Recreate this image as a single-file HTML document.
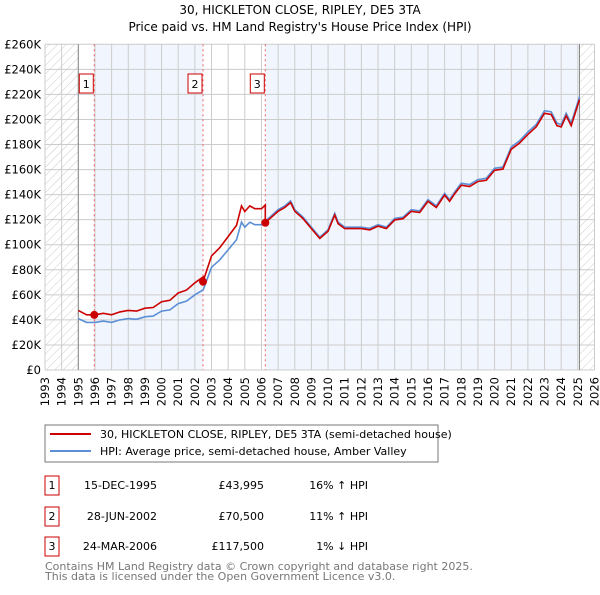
<!DOCTYPE html>
<html><head><meta charset="utf-8"><style>
body{margin:0;background:#fff;font-family:"Liberation Sans","DejaVu Sans",sans-serif}
#wrap{position:relative;width:600px;height:590px}
svg text{font-family:"DejaVu Sans","Liberation Sans",sans-serif}
</style></head><body><div id="wrap">
<svg id="chart" width="600" height="590">
<defs><pattern id="hatch" width="6" height="6" patternUnits="userSpaceOnUse" patternTransform="rotate(45)"><line x1="0" y1="0" x2="0" y2="6" stroke="#ccc" stroke-width="1"/></pattern></defs>
<text x="300" y="14" text-anchor="middle" font-size="12" fill="#000">30, HICKLETON CLOSE, RIPLEY, DE5 3TA</text>
<text x="300" y="31" text-anchor="middle" font-size="12" fill="#000">Price paid vs. HM Land Registry's House Price Index (HPI)</text>
<g id="plot"></g>
<g>
<rect x="45" y="425" width="393" height="37" fill="#fff" stroke="#777"/>
<line x1="50" y1="434" x2="91" y2="434" stroke="#cc0000" stroke-width="2"/>
<text x="100" y="438" font-size="11">30, HICKLETON CLOSE, RIPLEY, DE5 3TA (semi-detached house)</text>
<line x1="50" y1="451" x2="91" y2="451" stroke="#5b8fd6" stroke-width="2"/>
<text x="100" y="455" font-size="11">HPI: Average price, semi-detached house, Amber Valley</text>
</g>
<g id="table" font-size="11"></g>
<text x="45" y="570" font-size="11" fill="#777">Contains HM Land Registry data © Crown copyright and database right 2025.</text>
<text x="45" y="580" font-size="11" fill="#777">This data is licensed under the Open Government Licence v3.0.</text>
</svg></div>
<script>
const hpiYears=[1995.0,1995.5,1996,1996.5,1997,1997.5,1998,1998.5,1999,1999.5,2000,2000.5,2001,2001.5,2002,2002.5,2003,2003.5,2004,2004.5,2004.8,2005,2005.3,2005.6,2006,2006.25,2006.5,2007,2007.4,2007.75,2008,2008.5,2009,2009.5,2010,2010.4,2010.6,2011,2011.5,2012,2012.5,2013,2013.5,2014,2014.5,2015,2015.5,2016,2016.5,2017,2017.3,2017.6,2018,2018.5,2019,2019.5,2020,2020.5,2021,2021.5,2022,2022.5,2023,2023.4,2023.75,2024,2024.3,2024.6,2025.1];
const hpiValues=[41,38,38,39,38,40,41,40.5,42.5,43,47,48,53,55,60,64,82,88,96,104,118,114,118,116,116,119,122,128,131,135,128,122,114,106,112,125,118,114,114,114,113,116,114,121,122,128,127,136,131,141,136,142,149,148,152,153,161,162,178,183,190,196,207,206,197,196,205,197,218];
const saleDates=[1995.96,2002.49,2006.23];
const salePrices=[43.995,70.5,117.5];
const saleRatios=[1.16,1.11,0.99];
const yTicks=[0,20,40,60,80,100,120,140,160,180,200,220,240,260];
const xTicks=[1993,1994,1995,1996,1997,1998,1999,2000,2001,2002,2003,2004,2005,2006,2007,2008,2009,2010,2011,2012,2013,2014,2015,2016,2017,2018,2019,2020,2021,2022,2023,2024,2025,2026];
const tableDates=["15-DEC-1995","28-JUN-2002","24-MAR-2006"];
const tablePrices=["£43,995","£70,500","£117,500"];
const tableDiffs=["16% ↑ HPI","11% ↑ HPI","1% ↓ HPI"];

const NS="http://www.w3.org/2000/svg";
const X0=45,X1=594.5,Y0=370,Y1=44.3;
const xs=y=>X0+(y-1993)/33*(X1-X0);
const ys=v=>Y0-v/260*(Y0-Y1);
const plot=document.getElementById('plot');
function mk(tag,attrs,parent){const e=document.createElementNS(NS,tag);for(const k in attrs)e.setAttribute(k,attrs[k]);(parent||plot).appendChild(e);return e;}

let e;
e=mk('rect',{x:X0,y:Y1,width:X1-X0,height:Y0-Y1,fill:'#fff'});


e=mk('rect',{x:xs(saleDates[0]),y:Y1,width:xs(saleDates[1])-xs(saleDates[0]),height:Y0-Y1,fill:'#eef3fc',opacity:0.8});


e=mk('rect',{x:xs(saleDates[2]),y:Y1,width:xs(2025.1)-xs(saleDates[2]),height:Y0-Y1,fill:'#eef3fc',opacity:0.8});


e=mk('rect',{x:X0,y:Y1,width:xs(1995)-X0,height:Y0-Y1,fill:'url(#hatch)'});


e=mk('rect',{x:xs(2025.1),y:Y1,width:X1-xs(2025.1),height:Y0-Y1,fill:'url(#hatch)'});



yTicks.forEach(v=>{
  const g=mk('line',{x1:X0,x2:X1,y1:ys(v),y2:ys(v),stroke:'#ccc','stroke-width':1});
  
  
  const t=mk('text',{x:X0-4,y:ys(v)+4,'text-anchor':'end','font-size':11.5});
  t.textContent=v===0?'£0':'£'+v+'K';
  
  
});
xTicks.forEach(y=>{
  const g=mk('line',{x1:xs(y),x2:xs(y),y1:Y1,y2:Y0,stroke:'#ccc','stroke-width':1});
  
  
  const t=mk('text',{x:0,y:0,'text-anchor':'end','font-size':11.5,transform:`translate(${xs(y)+4},${Y0+7}) rotate(-90)`});
  t.textContent=y;
  
  
});
e=mk('line',{x1:xs(1995),x2:xs(1995),y1:Y1,y2:Y0,stroke:'#888'});


e=mk('line',{x1:xs(2025.1),x2:xs(2025.1),y1:Y1,y2:Y0,stroke:'#888'});



saleDates.forEach((d,i)=>{
  const l=mk('line',{x1:xs(d),x2:xs(d),y1:Y1,y2:Y0,stroke:'#f06060','stroke-dasharray':'2,3','stroke-width':1});
  
  
  const r=mk('rect',{x:xs(d)-15,y:74,width:14,height:19,fill:'#fff',stroke:'#cc0000'});
  
  
  const t=mk('text',{x:xs(d)-8,y:88,'text-anchor':'middle','font-size':11});
  t.textContent=String(i+1);
  
  
});

const hpiPts=hpiYears.map((y,i)=>xs(y).toFixed(1)+','+ys(hpiValues[i]).toFixed(1));
e=mk('polyline',{points:hpiPts.join(' '),fill:'none',stroke:'#5b8fd6','stroke-width':1.6});



function ratioAt(y){if(y<saleDates[1])return saleRatios[0];if(y<saleDates[2])return saleRatios[1];return saleRatios[2];}
function hpiAt(y){for(let i=1;i<hpiYears.length;i++){if(y<=hpiYears[i]){const t=(y-hpiYears[i-1])/(hpiYears[i]-hpiYears[i-1]);return hpiValues[i-1]+t*(hpiValues[i]-hpiValues[i-1]);}}return hpiValues[hpiValues.length-1];}
const redPts=[];
const allX=hpiYears.concat([saleDates[1]-0.001,saleDates[2]-0.001,saleDates[1],saleDates[2]]).sort((a,b)=>a-b);
allX.forEach(y=>redPts.push(xs(y).toFixed(1)+','+ys(hpiAt(y)*ratioAt(y)).toFixed(1)));
e=mk('polyline',{points:redPts.join(' '),fill:'none',stroke:'#cc0000','stroke-width':1.6});



saleDates.forEach((d,i)=>{
  const c=mk('circle',{cx:xs(d),cy:ys(salePrices[i]),r:4,fill:'#cc0000'});
  
  
});

const tb=document.getElementById('table');
const rowY=[485,516,546];
rowY.forEach((ry,i)=>{
  const r=mk('rect',{x:45,y:ry-9,width:14,height:19,fill:'#fff',stroke:'#cc0000'},tb);
  
  
  const cells=[[52,'middle',String(i+1)],[157,'end',tableDates[i]],[264,'end',tablePrices[i]],[368,'end',tableDiffs[i]]];
  cells.forEach(c=>{
    const t=mk('text',{x:c[0],y:ry+4,'text-anchor':c[1]},tb);
    t.textContent=c[2];
    
    
  });
});
</script></body></html>
